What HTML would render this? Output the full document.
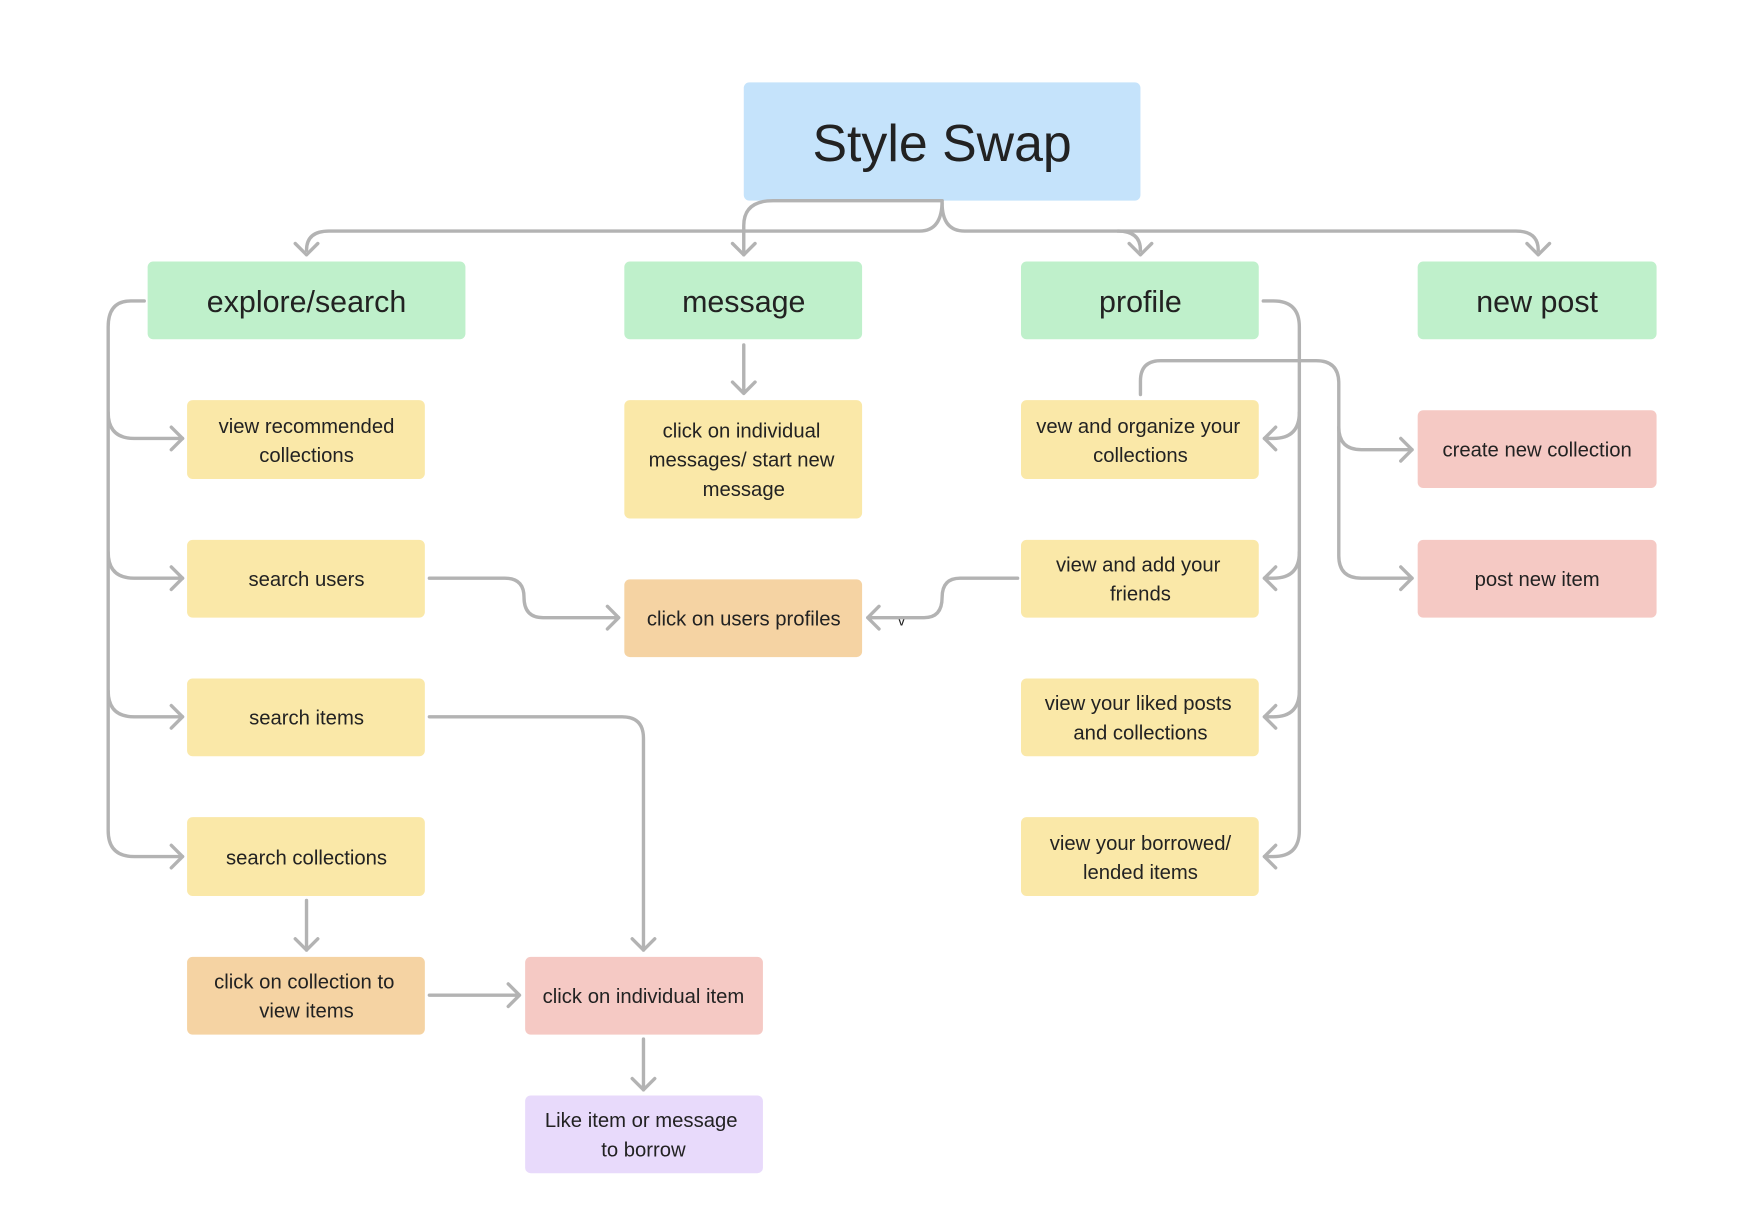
<!DOCTYPE html>
<html><head><meta charset="utf-8"><style>
html,body{margin:0;padding:0;background:#fff;}
svg{display:block;}
text{font-family:"Liberation Sans",sans-serif;fill:#222;text-anchor:middle;}
.l{fill:none;stroke:#b3b3b3;stroke-width:3;stroke-linecap:round;stroke-linejoin:round;}
.s{font-size:18px;}
.h{font-size:27px;}
</style></head><body>
<svg width="1758" height="1224" viewBox="0 0 1560 1086" xmlns="http://www.w3.org/2000/svg">
<!-- nodes -->
<rect x="660" y="73" width="352" height="105" rx="5" fill="#c5e3fb"/>
<text x="836" y="143" style="font-size:46px" fill="#222">Style Swap</text>

<rect x="131" y="232" width="282" height="69" rx="5" fill="#bff0cb"/>
<text x="272" y="277" class="h">explore/search</text>
<rect x="554" y="232" width="211" height="69" rx="5" fill="#bff0cb"/>
<text x="660" y="277" class="h">message</text>
<rect x="906" y="232" width="211" height="69" rx="5" fill="#bff0cb"/>
<text x="1012" y="277" class="h">profile</text>
<rect x="1258" y="232" width="212" height="69" rx="5" fill="#bff0cb"/>
<text x="1364" y="277" class="h">new post</text>

<g fill="#fae8a8">
<rect x="166" y="355" width="211" height="70" rx="5"/>
<rect x="166" y="479" width="211" height="69" rx="5"/>
<rect x="166" y="602" width="211" height="69" rx="5"/>
<rect x="166" y="725" width="211" height="70" rx="5"/>
<rect x="554" y="355" width="211" height="105" rx="5"/>
<rect x="906" y="355" width="211" height="70" rx="5"/>
<rect x="906" y="479" width="211" height="69" rx="5"/>
<rect x="906" y="602" width="211" height="69" rx="5"/>
<rect x="906" y="725" width="211" height="70" rx="5"/>
</g>
<rect x="166" y="849" width="211" height="69" rx="5" fill="#f5d3a3"/>
<rect x="554" y="514" width="211" height="69" rx="5" fill="#f5d3a3"/>
<rect x="466" y="849" width="211" height="69" rx="5" fill="#f5c9c4"/>
<rect x="1258" y="364" width="212" height="69" rx="5" fill="#f5c9c4"/>
<rect x="1258" y="479" width="212" height="69" rx="5" fill="#f5c9c4"/>
<rect x="466" y="972" width="211" height="69" rx="5" fill="#e8dafb"/>

<g class="s">
<text x="272" y="384">view recommended</text><text x="272" y="410">collections</text>
<text x="272" y="520">search users</text>
<text x="272" y="643">search items</text>
<text x="272" y="767">search collections</text>
<text x="270" y="877">click on collection to</text><text x="272" y="903">view items</text>
<text x="658" y="388">click on individual</text><text x="658" y="414">messages/ start new</text><text x="660" y="440">message</text>
<text x="660" y="555">click on users profiles</text>
<text x="571" y="890">click on individual item</text>
<text x="569" y="1000">Like item or message</text><text x="571" y="1026">to borrow</text>
<text x="1010" y="384">vew and organize your</text><text x="1012" y="410">collections</text>
<text x="1010" y="507">view and add your</text><text x="1012" y="533">friends</text>
<text x="1010" y="630">view your liked posts</text><text x="1012" y="656">and collections</text>
<text x="1012" y="754">view your borrowed/</text><text x="1012" y="780">lended items</text>
<text x="1364" y="405">create new collection</text>
<text x="1364" y="520">post new item</text>
</g>
<text x="800" y="555" style="font-size:13px">v</text>

<!-- connectors -->
<g class="l">
<path d="M836 178 Q836 205 816 205 H292 Q272 205 272 222"/>
<path d="M262 216 L272 226 L282 216"/>
<path d="M836 178 H686 Q660 178 660 200 V226"/>
<path d="M650 216 L660 226 L670 216"/>
<path d="M836 180 Q836 205 856 205 H992 Q1012 205 1012 222"/>
<path d="M1002 216 L1012 226 L1022 216"/>
<path d="M992 205 H1345 Q1365 205 1365 222"/>
<path d="M1355 216 L1365 226 L1375 216"/>

<path d="M128 267 H116 Q96 267 96 290 V737 Q96 760 119 760 H162"/>
<path d="M96 366 Q96 389 119 389 H162"/>
<path d="M96 490 Q96 513 119 513 H162"/>
<path d="M96 613 Q96 636 119 636 H162"/>
<path d="M152 379 L162 389 L152 399 M152 503 L162 513 L152 523 M152 626 L162 636 L152 646 M152 750 L162 760 L152 770"/>

<path d="M660 306 V349 M650 339 L660 349 L670 339"/>

<path d="M381 513 H448 Q465 513 465 530 Q465 548 482 548 H549 M539 538 L549 548 L539 558"/>
<path d="M903 513 H852 Q836 513 836 530 Q836 548 820 548 H770 M780 538 L770 548 L780 558"/>
<path d="M381 636 H552 Q571 636 571 655 V843 M561 833 L571 843 L581 833"/>
<path d="M272 799 V843 M262 833 L272 843 L282 833"/>
<path d="M381 883 H461 M451 873 L461 883 L451 893"/>
<path d="M571 922 V967 M561 957 L571 967 L581 957"/>

<path d="M1121 267 H1130 Q1153 267 1153 290 V737 Q1153 760 1130 760 H1122"/>
<path d="M1153 366 Q1153 389 1130 389 H1122"/>
<path d="M1153 490 Q1153 513 1130 513 H1122"/>
<path d="M1153 613 Q1153 636 1130 636 H1122"/>
<path d="M1132 379 L1122 389 L1132 399 M1132 503 L1122 513 L1132 523 M1132 626 L1122 636 L1132 646 M1132 750 L1122 760 L1132 770"/>

<path d="M1012 350 V338 Q1012 320 1030 320 H1168 Q1188 320 1188 340 V379 Q1188 399 1208 399 H1253"/>
<path d="M1188 379 V493 Q1188 513 1208 513 H1253"/>
<path d="M1243 389 L1253 399 L1243 409 M1243 503 L1253 513 L1243 523"/>
</g>
</svg>
</body></html>
